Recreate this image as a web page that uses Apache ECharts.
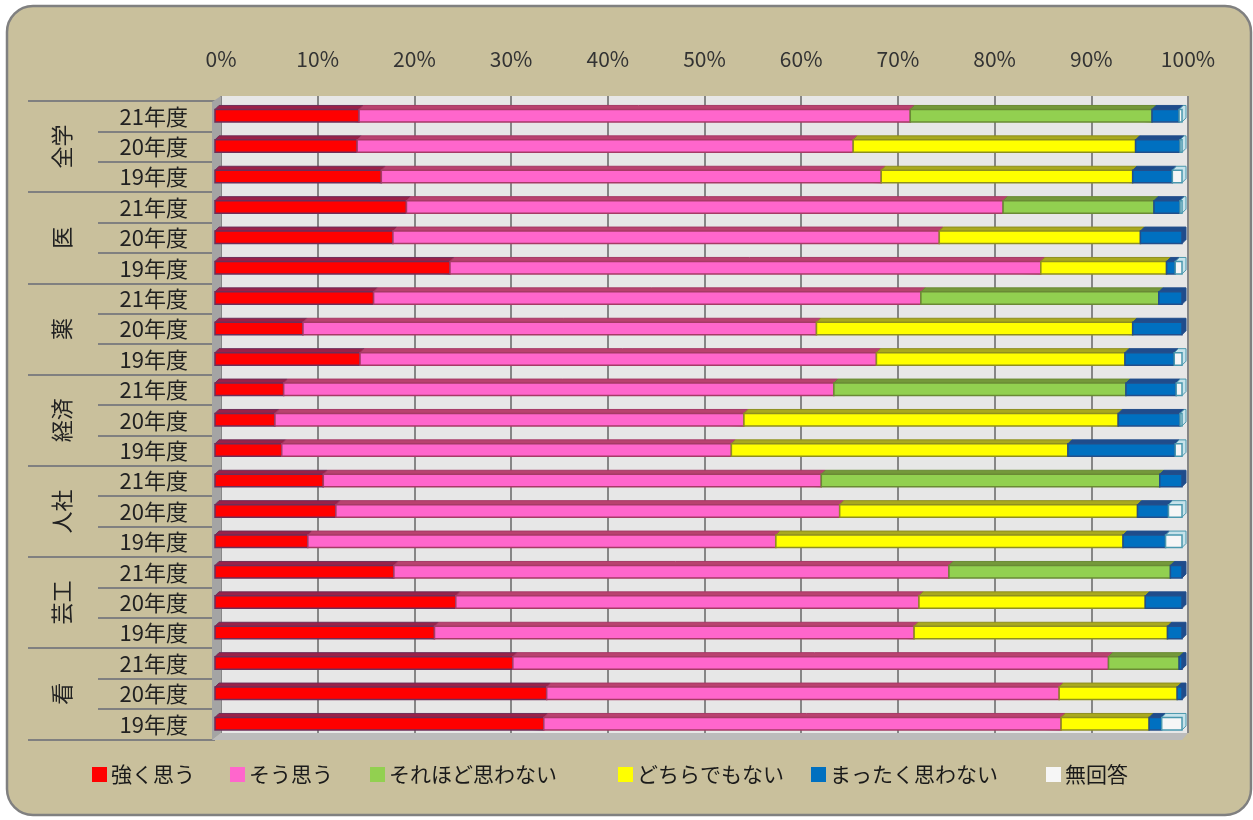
<!DOCTYPE html>
<html>
<head>
<meta charset="utf-8">
<script src="https://cdn.jsdelivr.net/npm/echarts@6/dist/echarts.min.js"></script>
<style>
  html, body { margin: 0; padding: 0; background: #ffffff; }
  #chart { width: 1253px; height: 820px; }
</style>
</head>
<body>
<div id="chart"></div>
<script>
// ---- data ----
const groups = ['全学', '医', '薬', '経済', '人社', '芸工', '看'];
const years = ['21年度', '20年度', '19年度'];
const seriesNames = ['強く思う', 'そう思う', 'それほど思わない', 'どちらでもない', 'まったく思わない', '無回答'];

// rows: for each group, 21年度, 20年度, 19年度 (percent)
const strongly = [14.9, 14.7, 17.2, 19.8, 18.4, 24.3, 16.4, 9.1, 15.0, 7.1, 6.2, 6.9, 11.2, 12.5, 9.6, 18.5, 24.9, 22.7, 30.8, 34.3, 34.0];
const agree    = [57.0, 51.3, 51.7, 61.7, 56.5, 61.1, 56.6, 53.1, 53.4, 56.9, 48.5, 46.5, 51.5, 52.1, 48.4, 57.4, 47.9, 49.6, 61.6, 53.0, 53.5];
const notMuch  = [25.0, 0, 0, 15.6, 0, 0, 24.6, 0, 0, 30.2, 0, 0, 35.0, 0, 0, 22.9, 0, 0, 7.3, 0, 0];
const neutral  = [0, 29.2, 26.0, 0, 20.8, 13.0, 0, 32.7, 25.7, 0, 38.7, 34.8, 0, 30.8, 35.9, 0, 23.4, 26.2, 0, 12.2, 9.1];
const notAtAll = [2.8, 4.6, 4.1, 2.7, 4.3, 0.9, 2.4, 5.1, 5.1, 5.2, 6.4, 11.1, 2.3, 3.2, 4.4, 1.2, 3.8, 1.5, 0.3, 0.5, 1.3];
const noAnswer = [0.3, 0.2, 1.0, 0.2, 0, 0.7, 0, 0, 0.8, 0.6, 0.2, 0.7, 0, 1.4, 1.7, 0, 0, 0, 0, 0, 2.1];

// ---- styles ----
const styles = [
  { color: '#ff0000', top: '#9a2148', border: '#6e2d58' },
  { color: '#ff66cc', top: '#b9426f', border: '#a63a66' },
  { color: '#92d050', top: '#74983a', border: '#6a8a34' },
  { color: '#ffff00', top: '#a9a91e', border: '#8e8f1f' },
  { color: '#0070c0', top: '#1f4c8c', border: '#234e8a' },
  { color: '#f6f6f6', top: '#c6e2ea', border: '#4a98ae' }
];

const rowLabels = [];
groups.forEach(() => years.forEach(y => rowLabels.push(y)));
const valueLists = [strongly, agree, notMuch, neutral, notAtAll, noAnswer];

// build stacked [row, start, end] triples
const cum = new Array(rowLabels.length).fill(0);
const stackedData = valueLists.map(list => {
  const out = [];
  list.forEach((v, i) => {
    if (v > 0) out.push([i, cum[i], cum[i] + v]);
    cum[i] += v;
  });
  return out;
});

function makeRender(st) {
  return function (params, api) {
    const row = api.value(0);
    const a = api.coord([api.value(1), row]);
    const b = api.coord([api.value(2), row]);
    const h = api.size([0, 1])[1] * 0.41;
    const d = 4;
    const x0 = a[0], x1 = b[0];
    const yT = a[1] - h / 2 - 0.5;
    return {
      type: 'group',
      children: [
        {
          type: 'polygon',
          shape: { points: [[x0, yT], [x0 + d, yT - d], [x1 + d, yT - d], [x1 + d, yT + h - d], [x1, yT + h]] },
          style: { fill: st.top, stroke: st.border, lineWidth: 1 }
        },
        {
          type: 'rect',
          shape: { x: x0, y: yT, width: x1 - x0, height: h },
          style: { fill: st.color, stroke: st.border, lineWidth: 1.5 }
        }
      ]
    };
  };
}

const series = seriesNames.map((name, k) => ({
  name: name,
  type: 'custom',
  xAxisIndex: 1,
  yAxisIndex: 1,
  itemStyle: { color: styles[k].color },
  encode: { y: 0, x: [1, 2] },
  renderItem: makeRender(styles[k]),
  data: stackedData[k]
}));

const legendLeft = [92, 230, 370, 618, 811, 1046];
const legends = seriesNames.map((name, k) => ({
  data: [name],
  left: legendLeft[k],
  top: 764,
  padding: 0,
  icon: 'rect',
  itemWidth: 15,
  itemHeight: 15,
  itemGap: 4,
  selectedMode: false,
  itemStyle: { borderWidth: 0 },
  textStyle: { fontSize: 21, color: '#1a1a1a', fontFamily: 'Noto Sans CJK JP', padding: [0, 0, 0, -1] }
}));

const tickLine = { color: '#808080', width: 2 };
const chart = echarts.init(document.getElementById('chart'), null, { renderer: 'canvas' });
chart.setOption({
  animation: false,
  textStyle: { fontFamily: 'Noto Sans CJK JP' },
  graphic: [
    { type: 'rect', z: -10, shape: { x: 7, y: 6, width: 1244, height: 809, r: 26 },
      style: { fill: '#c9c09c', stroke: '#808080', lineWidth: 2.5 } },
    { type: 'polygon', z: 1, shape: { points: [[212, 102], [221, 96], [221, 733], [212, 740]] },
      style: { fill: '#a4a4a4' } },
    { type: 'polygon', z: 1, shape: { points: [[212, 740], [221, 733], [1188, 733], [1182, 740]] },
      style: { fill: '#bcbcbc' } }
  ],
  legend: legends,
  grid: [
    { left: 221, right: 65, top: 96, bottom: 87, show: true, backgroundColor: '#e7e7e7', borderWidth: 0 },
    { left: 215, right: 71, top: 101, height: 638.4 }
  ],
  xAxis: [
    {
      gridIndex: 0, type: 'value', min: 0, max: 100, interval: 10, position: 'top',
      axisLine: { show: false },
      axisTick: { show: true, length: 9, lineStyle: { color: '#868686', width: 2 } },
      splitLine: { show: true, lineStyle: { color: '#868686', width: 2 } },
      axisLabel: { formatter: '{value}%', fontSize: 21, color: '#333', margin: 26, fontFamily: 'Noto Sans CJK JP' }
    },
    { gridIndex: 1, type: 'value', min: 0, max: 100, show: false }
  ],
  yAxis: [
    { gridIndex: 0, type: 'value', min: 0, max: 1, show: false },
    {
      gridIndex: 1, type: 'category', inverse: true, data: rowLabels, position: 'left',
      axisLine: { show: false },
      axisTick: { show: true, interval: 0, length: 117, lineStyle: tickLine },
      axisLabel: { interval: 0, fontSize: 22, color: '#222', margin: 27, fontFamily: 'Noto Sans CJK JP' },
      splitLine: { show: false }
    },
    {
      gridIndex: 1, type: 'category', inverse: true, data: groups, position: 'left', offset: 0,
      axisLine: { show: false },
      axisTick: { show: true, interval: 0, length: 187, lineStyle: tickLine },
      axisLabel: { interval: 0, rotate: 90, fontSize: 22, color: '#222', margin: 142, fontFamily: 'Noto Sans CJK JP' },
      splitLine: { show: false }
    }
  ],
  series: series
});
</script>
</body>
</html>
